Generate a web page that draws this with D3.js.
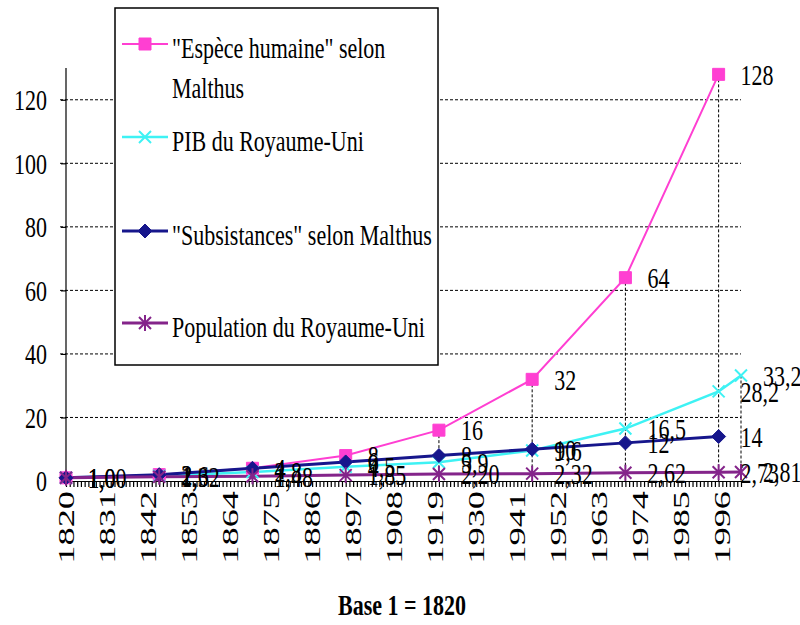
<!DOCTYPE html>
<html>
<head>
<meta charset="utf-8">
<script src="https://cdn.jsdelivr.net/npm/d3@7"></script>
<style>
  html, body { margin: 0; background: #fff; }
  svg { display: block; }
  svg text { font-family: "Liberation Serif", "Times New Roman", Times, serif; }
</style>
</head>
<body>
<svg id="chart" width="800" height="625"></svg>
<script>
// ── Data ────────────────────────────────────────────────────────────────────
const malthusYears = [1820, 1845, 1870, 1895, 1920, 1945, 1970, 1995];
const ukYears = [1820, 1845, 1870, 1895, 1920, 1945, 1970, 1995, 2001];
const especeHumaine = [1, 2, 4, 8, 16, 32, 64, 128];
const subsistances = [1, 2, 4, 6, 8, 10, 12, 14];
const pibRoyaumeUni = [1.0, 1.6, 2.8, 4.5, 5.9, 9.6, 16.5, 28.2, 33.2];
const populationRoyaumeUni = [1.0, 1.32, 1.48, 1.85, 2.2, 2.32, 2.62, 2.73, 2.81];
const yTicks = [0, 20, 40, 60, 80, 100, 120];
const xTickYears = d3.range(1820, 1997, 11);
const legendLabels = [
  ['"Espèce humaine" selon', "Malthus"],
  ["PIB du Royaume-Uni"],
  ['"Subsistances" selon Malthus'],
  ["Population du Royaume-Uni"],
];
const title = "Base 1 = 1820";

// ── Setup ───────────────────────────────────────────────────────────────────
const fr = d3.formatLocale({ decimal: ",", thousands: " ", grouping: [3], currency: ["", " €"] });
const SY = 1.38; // the reference text is drawn vertically stretched
const FS = 22;

const series = [
  { years: malthusYears, values: especeHumaine, color: "#ff3fd2", width: 2, marker: "square", fmt: fr.format("d") },
  { years: ukYears, values: pibRoyaumeUni, color: "#3ef2f4", width: 2.5, marker: "cross", fmt: fr.format(".1f") },
  { years: malthusYears, values: subsistances, color: "#16168c", width: 3, marker: "diamond", fmt: fr.format("d") },
  { years: ukYears, values: populationRoyaumeUni, color: "#84248a", width: 3, marker: "star", fmt: fr.format(".2f") },
];

const markerPath = {
  square: "M-6,-6h12v12h-12z",
  cross: "M-6,-6L6,6M-6,6L6,-6",
  diamond: "M0,-7L7,0L0,7L-7,0Z",
  star: "M-6,-6L6,6M-6,6L6,-6M0,-8V8",
};
const filled = { square: true, diamond: true };

const svg = d3.select("#chart");
const x = d3.scaleLinear().domain([1820, 2001]).range([66, 741]);
const y = d3.scaleLinear().domain([0, 130]).range([481, 68]);

function stretchText(parent, px, py, str, anchor = "start") {
  return parent
    .append("text")
    .attr("transform", `translate(${px},${py}) scale(1,${SY})`)
    .attr("text-anchor", anchor)
    .attr("dy", "0.34em")
    .attr("font-size", FS)
    .attr("fill", "#000")
    .text(str);
}

function drawMarker(parent, type, color, px, py) {
  parent
    .append("path")
    .attr("transform", `translate(${px},${py})`)
    .attr("d", markerPath[type])
    .attr("fill", filled[type] ? color : "none")
    .attr("stroke", color)
    .attr("stroke-width", filled[type] ? 1 : 2);
}

// ── Gridlines
svg
  .append("g")
  .selectAll("line")
  .data(yTicks.filter((v) => v > 0))
  .join("line")
  .attr("x1", 60)
  .attr("x2", x(2001))
  .attr("y1", (d) => y(d))
  .attr("y2", (d) => y(d))
  .attr("stroke", "#000")
  .attr("stroke-width", 1)
  .attr("stroke-dasharray", "3,2");

// ── Drop lines (from highest point of each date down to the axis)
const dropData = d3.rollups(
  series.flatMap((s) => s.years.map((yr, i) => ({ yr, v: s.values[i] }))),
  (v) => d3.max(v, (d) => d.v),
  (d) => d.yr,
);
svg
  .append("g")
  .selectAll("line")
  .data(dropData)
  .join("line")
  .attr("x1", (d) => x(d[0]))
  .attr("x2", (d) => x(d[0]))
  .attr("y1", (d) => y(d[1]))
  .attr("y2", y(0))
  .attr("stroke", "#000")
  .attr("stroke-width", 1)
  .attr("stroke-dasharray", "3,2");

// ── Axes
const yAxis = svg
  .append("g")
  .attr("transform", `translate(${x(1820)},0)`)
  .call(d3.axisLeft(y).tickValues(yTicks).tickSize(5).tickSizeOuter(0).tickFormat(""));
yAxis.select(".domain").attr("d", `M0,${y(0)}V${y(130)}`);

svg
  .append("g")
  .attr("transform", `translate(0,${y(0)})`)
  .call(d3.axisBottom(x).tickValues(d3.range(1820, 2002)).tickSize(6).tickSizeOuter(0).tickFormat(""));

svg.selectAll(".domain, .tick line").attr("stroke", "#000").attr("stroke-width", 1.2);

const labels = svg.append("g");
yTicks.forEach((v) => stretchText(labels, 47, y(v), String(v), "end"));

xTickYears.forEach((yr) => {
  labels
    .append("text")
    .attr("transform", `translate(${x(yr)},491) rotate(-90) scale(1.58,1)`)
    .attr("text-anchor", "end")
    .attr("dy", "0.34em")
    .attr("font-size", 23)
    .text(yr);
});

// ── Series lines, markers, data labels
const line = d3.line().x((d) => x(d[0])).y((d) => y(d[1]));
series.forEach((s) => {
  const pts = s.years.map((yr, i) => [yr, s.values[i]]);
  svg
    .append("path")
    .attr("d", line(pts))
    .attr("fill", "none")
    .attr("stroke", s.color)
    .attr("stroke-width", s.width);
});
const markerG = svg.append("g");
series.forEach((s) => {
  s.years.forEach((yr, i) => drawMarker(markerG, s.marker, s.color, x(yr), y(s.values[i])));
});
const dataLabels = svg.append("g");
series.forEach((s) => {
  s.years.forEach((yr, i) => stretchText(dataLabels, x(yr) + 22, y(s.values[i]), s.fmt(s.values[i])));
});

// ── Legend
const legend = svg.append("g");
legend
  .append("rect")
  .attr("x", 115)
  .attr("y", 8)
  .attr("width", 323)
  .attr("height", 357)
  .attr("fill", "#fff")
  .attr("stroke", "#000")
  .attr("stroke-width", 1.5);

const legendY = [44, 137, 231, 323];
series.forEach((s, i) => {
  legend
    .append("line")
    .attr("x1", 122)
    .attr("x2", 168)
    .attr("y1", legendY[i])
    .attr("y2", legendY[i])
    .attr("stroke", s.color)
    .attr("stroke-width", s.width);
  drawMarker(legend, s.marker, s.color, 145, legendY[i]);
  legendLabels[i].forEach((t, j) => stretchText(legend, 172, legendY[i] + 4 + j * 40, t));
});

// ── Title
stretchText(svg, 402, 605, title, "middle").attr("font-weight", "bold");
</script>
</body>
</html>
